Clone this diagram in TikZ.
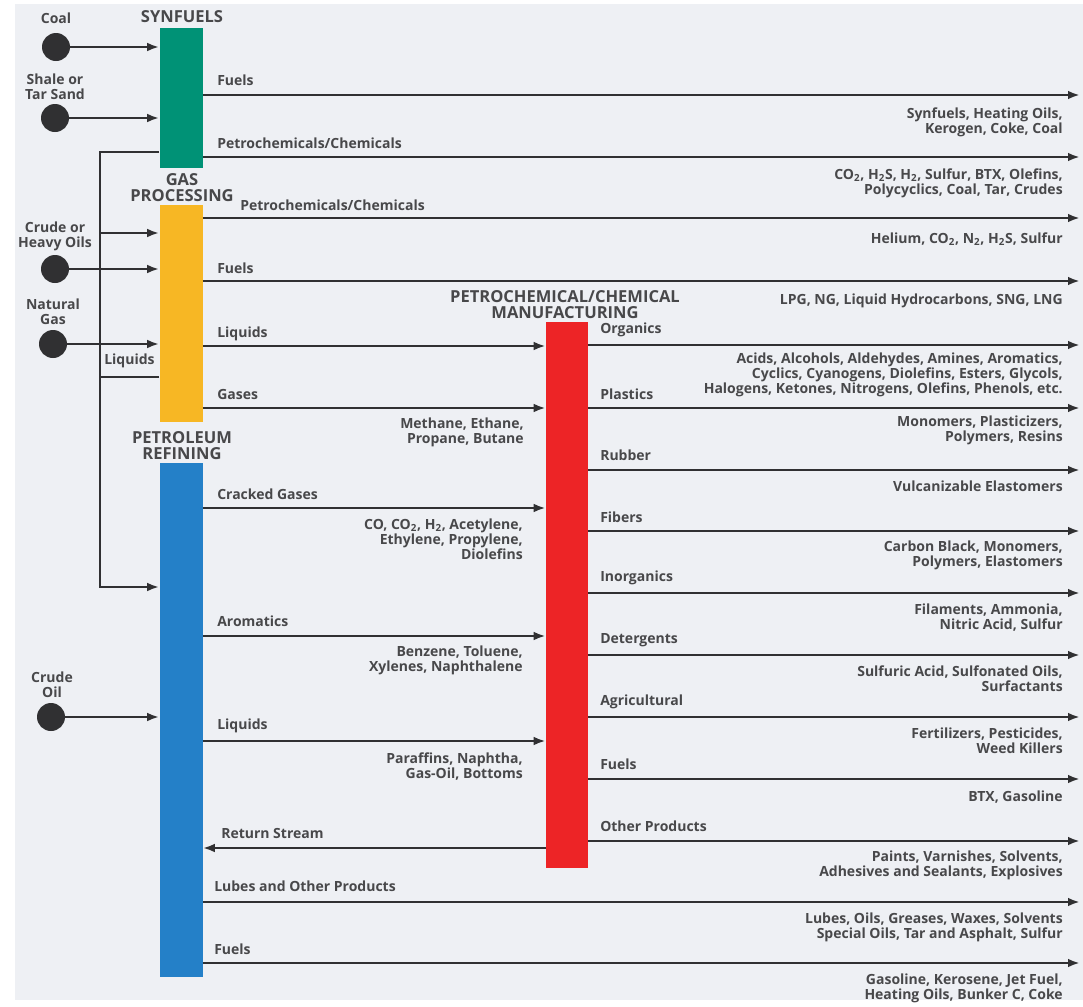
\documentclass[tikz,border=0pt]{standalone}
\usepackage{fontspec}
\setmainfont{Open Sans}
\usetikzlibrary{arrows.meta}
\definecolor{bg}{RGB}{238,240,244}
\definecolor{ink}{RGB}{48,48,50}
\definecolor{txt}{RGB}{72,72,74}
\definecolor{cgreen}{RGB}{0,146,118}
\definecolor{cyellow}{RGB}{247,183,36}
\definecolor{cblue}{RGB}{36,128,200}
\definecolor{cred}{RGB}{237,36,38}
\newcommand{\tw}{\textsubscript{2}}
\begin{document}
\begin{tikzpicture}[x=0.75pt,y=-0.75pt,
 flow/.style={draw=ink,line width=2.2pt,-{Latex[length=9pt,width=6.5pt]}},
 plain/.style={draw=ink,line width=2.2pt},
 lab/.style={font=\bfseries\fontsize{10.5}{11.25}\selectfont,text=txt,inner sep=0pt},
 llab/.style={lab,anchor=west},
 rlab/.style={lab,anchor=north east,align=right,yshift=-2.4pt},
 clab/.style={lab,align=center},
 head/.style={font=\bfseries\fontsize{12.4}{12}\selectfont,text=txt,align=center,inner sep=0pt},
 bar/.style={draw=none,minimum width=32.25pt,inner sep=0pt},
 src/.style={circle,fill=ink,minimum size=21pt,inner sep=0pt}]
\useasboundingbox (0,0) rectangle (1083,1007);
\fill[white] (0,0) rectangle (1083,1007);
\fill[bg] (15,4) rectangle (1083,1000);

% bars
\node[bar,fill=cgreen,minimum height=105pt] (syn) at (181,98) {};
\node[bar,fill=cyellow,minimum height=162.75pt] (gas) at (181,313.5) {};
\node[bar,fill=cblue,minimum height=385.5pt] (ref) at (181,720) {};
\node[bar,fill=cred,minimum width=31.5pt,minimum height=409.5pt] (chem) at (567,595) {};

% headings
\node[head] (hsyn) at (182,17) {SYNFUELS};
\node[head] (hgas) at (182,188) {GAS\\PROCESSING};
\node[head] (href) at (182,446) {PETROLEUM\\REFINING};
\node[head] (hchem) at (565,304.5) {PETROCHEMICAL/CHEMICAL\\MANUFACTURING};

% sources
\node[src] (coal) at (56,47) {};
\node[src] (shale) at (55,118) {};
\node[src] (heavy) at (55,269) {};
\node[src] (ng) at (53,344) {};
\node[src] (crude) at (51,717) {};
\node[clab] (tcoal) at (56,18) {Coal};
\node[clab] (tshale) at (55,87) {Shale or\\Tar Sand};
\node[clab] (theavy) at (55,236) {Crude or\\Heavy Oils};
\node[clab] (tng) at (53,312) {Natural\\Gas};
\node[clab] (tcrude) at (52,685) {Crude\\Oil};

\draw[flow] (coal) -- (coal -| syn.west);
\draw[flow] (shale) -- (shale -| syn.west);
\draw[flow] (heavy) -- (heavy -| gas.west);
\draw[flow] (ng) -- (ng -| gas.west);
\draw[flow] (crude) -- (crude -| ref.west);

% left collector line
\coordinate (v1) at (100,152);
\coordinate (v2) at (100,587);
\coordinate (v3) at (100,233);
\coordinate (v4) at (100,377);
\draw[flow] (syn.west |- v1) -- (v1) -- (v2) -- (v2 -| ref.west);
\draw[flow] (v3) -- (v3 -| gas.west);
\draw[plain] (gas.west |- v4) -- (v4);
\node[llab] (tliqv) at (104,361) {Liquids};

% synfuels outputs
\coordinate (o1) at (1080,95);
\coordinate (o2) at (1080,157);
\draw[flow] (syn.east |- o1) -- (o1);
\draw[flow] (syn.east |- o2) -- (o2);
\node[llab] (t1) at (217,80) {Fuels};
\node[llab] (t2) at (217,143) {Petrochemicals/Chemicals};
\node[rlab] (r1) at (1063,104) {Synfuels, Heating Oils,\\Kerogen, Coke, Coal};
\node[rlab] (r2) at (1063,165) {CO\tw, H\tw S, H\tw, Sulfur, BTX, Olefins,\\Polycyclics, Coal, Tar, Crudes};

% gas processing outputs
\coordinate (o3) at (1080,218);
\coordinate (o4) at (1080,281);
\coordinate (g5) at (0,346);
\coordinate (g6) at (0,408);
\draw[flow] (gas.east |- o3) -- (o3);
\draw[flow] (gas.east |- o4) -- (o4);
\draw[flow] (gas.east |- g5) -- (chem.west |- g5);
\draw[flow] (gas.east |- g6) -- (chem.west |- g6);
\node[llab] (t3) at (240,205) {Petrochemicals/Chemicals};
\node[llab] (t4) at (217,268) {Fuels};
\node[llab] (t5) at (217,334) {Liquids};
\node[llab] (t6) at (217,394) {Gases};
\node[rlab] (r3) at (1063,229) {Helium, CO\tw, N\tw, H\tw S, Sulfur};
\node[rlab] (r4) at (1063,290) {LPG, NG, Liquid Hydrocarbons, SNG, LNG};
\node[rlab] (r6) at (524,414) {Methane, Ethane,\\Propane, Butane};

% refining outputs
\coordinate (f7) at (0,508);
\coordinate (f8) at (0,636);
\coordinate (f9) at (0,741);
\coordinate (rs) at (0,848);
\coordinate (o11) at (1080,902);
\coordinate (o12) at (1080,963);
\draw[flow] (ref.east |- f7) -- (chem.west |- f7);
\draw[flow] (ref.east |- f8) -- (chem.west |- f8);
\draw[flow] (ref.east |- f9) -- (chem.west |- f9);
\draw[flow] (chem.west |- rs) -- (ref.east |- rs);
\draw[flow] (ref.east |- o11) -- (o11);
\draw[flow] (ref.east |- o12) -- (o12);
\node[llab] (t7) at (217,494) {Cracked Gases};
\node[llab] (t8) at (217,621) {Aromatics};
\node[llab] (t9) at (217,726) {Liquids};
\node[llab] (t10) at (221,833) {Return Stream};
\node[llab] (t11) at (214,886) {Lubes and Other Products};
\node[llab] (t12) at (214,949) {Fuels};
\node[rlab] (r7) at (523,515) {CO, CO\tw, H\tw, Acetylene,\\Ethylene, Propylene,\\Diolefins};
\node[rlab] (r8) at (523,642) {Benzene, Toluene,\\Xylenes, Naphthalene};
\node[rlab] (r9) at (523,749) {Paraffins, Naphtha,\\Gas-Oil, Bottoms};
\node[rlab] (r11) at (1063,909) {Lubes, Oils, Greases, Waxes, Solvents\\Special Oils, Tar and Asphalt, Sulfur};
\node[rlab] (r12) at (1063,970) {Gasoline, Kerosene, Jet Fuel,\\Heating Oils, Bunker C, Coke};

% chemical manufacturing outputs
\coordinate (c1) at (1080,345);
\coordinate (c2) at (1080,408);
\coordinate (c3) at (1080,470);
\coordinate (c4) at (1080,531);
\coordinate (c5) at (1080,593);
\coordinate (c6) at (1080,655);
\coordinate (c7) at (1080,717);
\coordinate (c8) at (1080,779);
\coordinate (c9) at (1080,841);
\foreach \c in {c1,c2,c3,c4,c5,c6,c7,c8,c9}
  \draw[flow] (chem.east |- \c) -- (\c);
\node[llab] (u1) at (600,330) {Organics};
\node[llab] (u2) at (600,394) {Plastics};
\node[llab] (u3) at (600,455) {Rubber};
\node[llab] (u4) at (600,517) {Fibers};
\node[llab] (u5) at (600,578) {Inorganics};
\node[llab] (u6) at (600,640) {Detergents};
\node[llab] (u7) at (600,702) {Agricultural};
\node[llab] (u8) at (600,764) {Fuels};
\node[llab] (u9) at (600,826) {Other Products};
\node[rlab] (s1) at (1063,349) {Acids, Alcohols, Aldehydes, Amines, Aromatics,\\Cyclics, Cyanogens, Diolefins, Esters, Glycols,\\Halogens, Ketones, Nitrogens, Olefins, Phenols, etc.};
\node[rlab] (s2) at (1063,412) {Monomers, Plasticizers,\\Polymers, Resins};
\node[rlab] (s3) at (1063,477) {Vulcanizable Elastomers};
\node[rlab] (s4) at (1063,537) {Carbon Black, Monomers,\\Polymers, Elastomers};
\node[rlab] (s5) at (1063,600) {Filaments, Ammonia,\\Nitric Acid, Sulfur};
\node[rlab] (s6) at (1063,662) {Sulfuric Acid, Sulfonated Oils,\\Surfactants};
\node[rlab] (s7) at (1063,724) {Fertilizers, Pesticides,\\Weed Killers};
\node[rlab] (s8) at (1063,787) {BTX, Gasoline};
\node[rlab] (s9) at (1063,847) {Paints, Varnishes, Solvents,\\Adhesives and Sealants, Explosives};
\end{tikzpicture}
\end{document}
